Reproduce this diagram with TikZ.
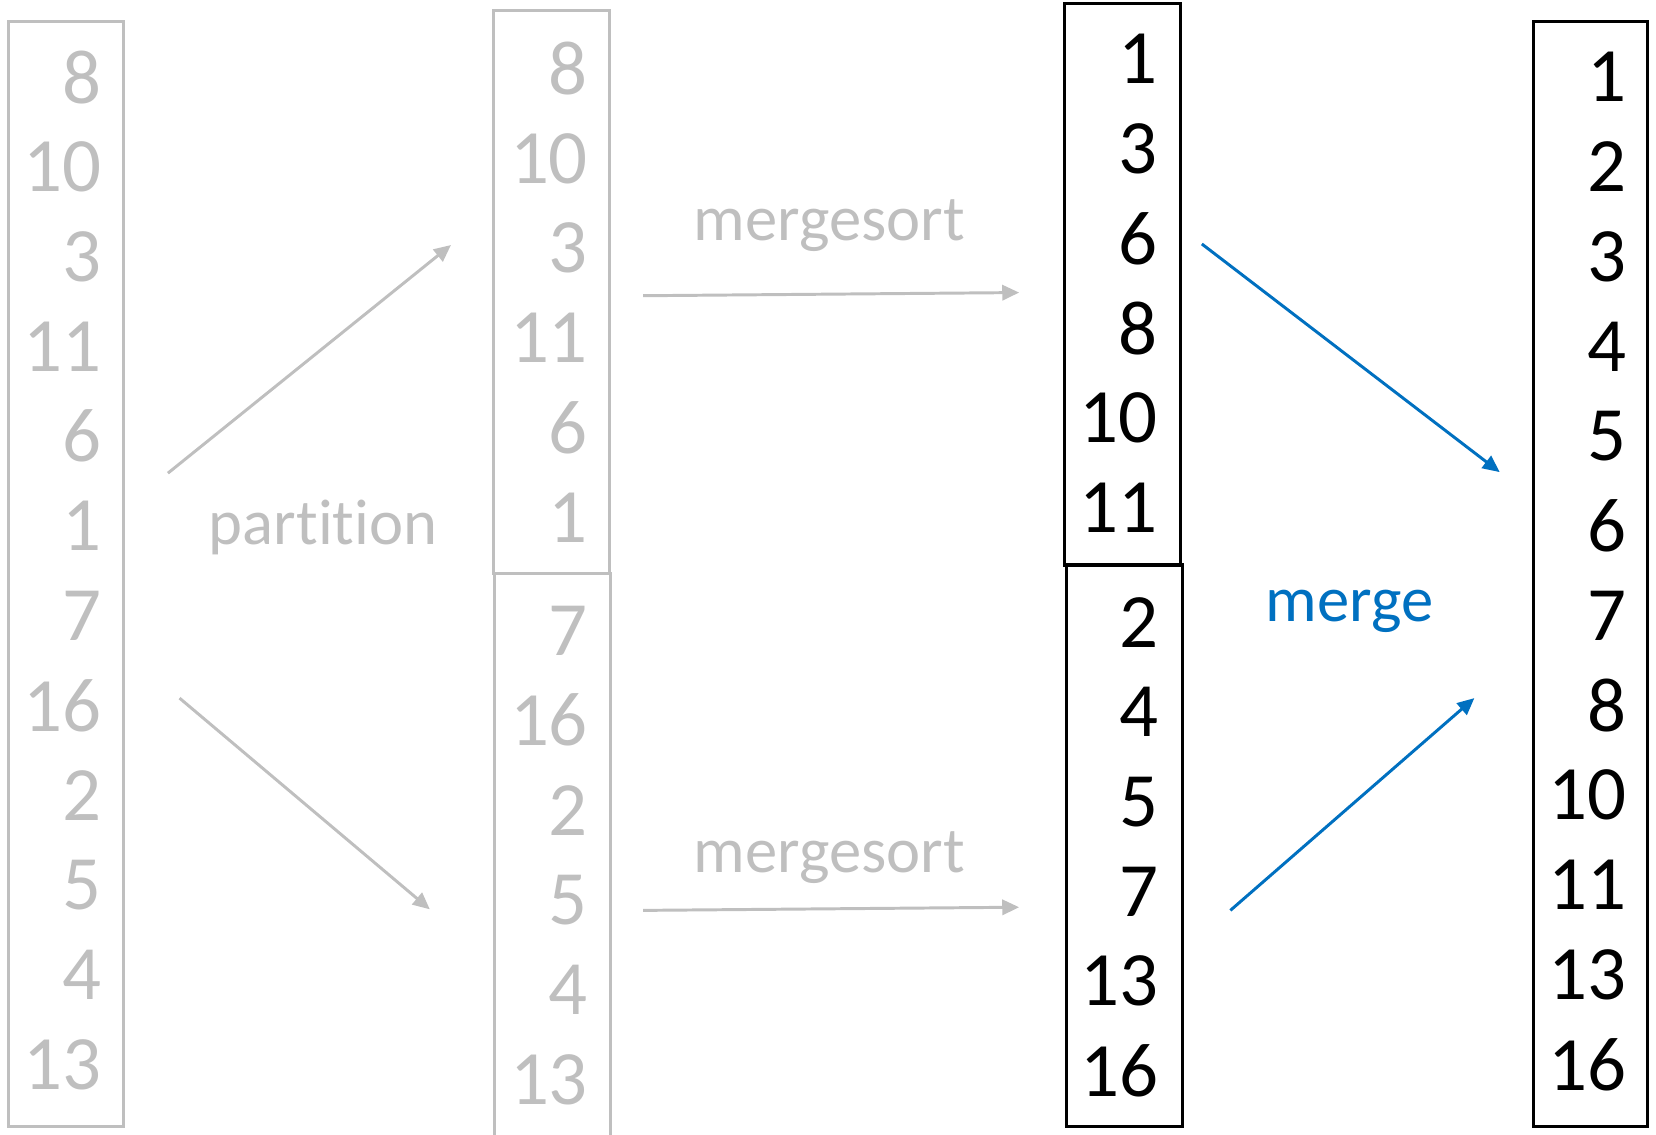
\documentclass[tikz,border=0pt]{standalone}
\usepackage{fontspec}
\setmainfont[Ligatures={NoCommon,NoContextual},RawFeature={-liga;-clig;-calt}]{Carlito}
\usetikzlibrary{arrows.meta}
\definecolor{lgray}{RGB}{191,191,191}
\definecolor{mblue}{RGB}{0,112,192}
\begin{document}
\begin{tikzpicture}[x=0.25pt,y=-0.25pt,
  num/.style={anchor=east,inner sep=0pt,font=\fontsize{18.2}{20}\selectfont},
  gnum/.style={num,text=lgray},
  bnum/.style={num,text=black},
  lbl/.style={anchor=base,inner sep=0pt,font=\fontsize{15.3}{17}\selectfont},
  gbox/.style={draw=lgray,line width=0.75pt},
  bbox/.style={draw=black,line width=0.75pt},
  garrow/.style={draw=lgray,line width=0.7pt,-{Triangle[length=4pt,width=3.6pt]}},
  barrow/.style={draw=mblue,line width=0.7pt,-{Triangle[length=4pt,width=3.6pt]}}]
\useasboundingbox (0,0) rectangle (1568,1074);
% boxes
\draw[gbox] (8,20) rectangle (117,1067);
\draw[gbox] (467,10) rectangle (577,543);
\draw[gbox] (468,1080) -- (468,543) -- (578,543) -- (578,1080);
\draw[bbox] (1008,3) rectangle (1118,535);
\draw[bbox] (1010,535) rectangle (1120,1067);
\draw[bbox] (1452,20) rectangle (1560,1067);
% column A
\foreach \v [count=\i from 0] in {8,10,3,11,6,1,7,16,2,5,4,13}
  \node[gnum] (a\i) at (96.5,73+85*\i) {\v};
% column B
\foreach \v [count=\i from 0] in {8,10,3,11,6,1}
  \node[gnum] (b\i) at (557.5,65+85*\i) {\v};
% column C
\foreach \v [count=\i from 0] in {7,16,2,5,4,13}
  \node[gnum] (c\i) at (557.5,597+85*\i) {\v};
% column D
\foreach \v [count=\i from 0] in {1,3,6,8,10,11}
  \node[bnum] (d\i) at (1097,56+85*\i) {\v};
% column E
\foreach \v [count=\i from 0] in {2,4,5,7,13,16}
  \node[bnum] (e\i) at (1098,589+85*\i) {\v};
% column F
\foreach \v [count=\i from 0] in {1,2,3,4,5,6,7,8,10,11,13,16}
  \node[bnum] (f\i) at (1541,73+85*\i) {\v};
% labels
\node[lbl,text=lgray] (lpart) at (306,516) {part\kern0pt it\kern0pt ion};
\node[lbl,text=lgray] (lms1) at (785,228) {mergesort};
\node[lbl,text=lgray] (lms2) at (785,826) {mergesort};
\node[lbl,text=mblue] (lmerge) at (1278,588) {merge};
% arrow endpoints
\coordinate (p1s) at (159,448); \coordinate (p1e) at (427,232);
\coordinate (p2s) at (170,661); \coordinate (p2e) at (407,861);
\coordinate (m1s) at (609,280); \coordinate (m1e) at (965,277);
\coordinate (m2s) at (609,862); \coordinate (m2e) at (965,859);
\coordinate (g1s) at (1138,231); \coordinate (g1e) at (1420,447);
\coordinate (g2s) at (1165,862); \coordinate (g2e) at (1396,661);
\draw[garrow] (p1s) -- (p1e);
\draw[garrow] (p2s) -- (p2e);
\draw[garrow] (m1s) -- (m1e);
\draw[garrow] (m2s) -- (m2e);
\draw[barrow] (g1s) -- (g1e);
\draw[barrow] (g2s) -- (g2e);
\end{tikzpicture}
\end{document}
